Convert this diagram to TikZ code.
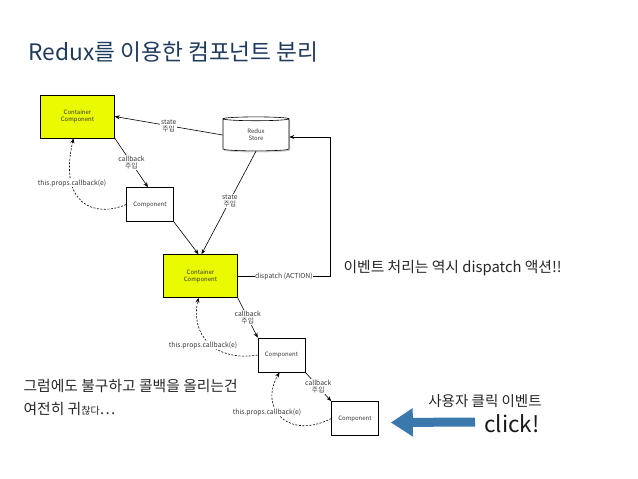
\documentclass[tikz,border=0pt]{standalone}
\usepackage{fontspec}
\setmainfont{Noto Sans CJK KR}
\usetikzlibrary{positioning,arrows.meta,shapes.geometric,shadows}
\definecolor{titlenavy}{HTML}{1F3B5C}
\definecolor{lemon}{HTML}{EAFA00}
\definecolor{clickblue}{HTML}{3A78AE}
\definecolor{labelgrey}{HTML}{3A3A3A}

\begin{document}
\begin{tikzpicture}[x=1pt,y=-1pt,
  box/.style={draw=black,line width=0.6pt,fill=white,inner sep=0pt,align=center,
    font=\fontsize{6}{7}\selectfont,text=labelgrey,
    drop shadow={opacity=0.2,shadow xshift=0.8pt,shadow yshift=-0.8pt}},
  container/.style={box,fill=lemon,minimum width=74pt,minimum height=43pt},
  comp/.style={box,minimum width=47pt,minimum height=34pt},
  wire/.style={-{Stealth[length=5pt,width=4pt]},line width=0.6pt},
  backwire/.style={wire,dash pattern=on 2pt off 1.5pt},
  tag/.style={fill=white,inner sep=0.6pt,align=center,
    font=\fontsize{6.8}{7.4}\selectfont,text=labelgrey},
  remark/.style={anchor=west,font=\fontsize{14.8}{23}\selectfont,text=black!85}]
  \useasboundingbox (0,0) rectangle (638,479);

  % title
  \node[anchor=west,font=\fontsize{22.7}{26}\selectfont,text=titlenavy] (title)
        at (25,52) {Redux를 이용한 컴포넌트 분리};

  % store and containers
  \node[container] (cc1) at (77.5,116.5) {Container\\Component};
  \node[container] (cc2) at (200.5,276) {Container\\Component};
  \node[cylinder,shape border rotate=90,aspect=0.22,draw=black,line width=0.6pt,
        fill=white,minimum width=66pt,minimum height=34pt,inner sep=0pt,
        align=center,font=\fontsize{6}{7}\selectfont,text=labelgrey,
        drop shadow={opacity=0.35,shadow xshift=1pt,shadow yshift=-1.5pt}] (store)
        at (256,135) {Redux\\Store};

  % components
  \foreach \n/\x/\y in {comp1/150/204.5, comp2/281.5/355, comp3/355/418.5}
    \node[comp] (\n) at (\x,\y) {Component};

  % state down
  \draw[wire] (store.west) -- node[tag] {state\\주입} (cc1.east);
  \draw[wire] (store.south) -- node[tag,pos=0.48] {state\\주입} ([xshift=1]cc2.north);

  % callbacks down
  \draw[wire] (cc1.south east) -- node[tag] {callback\\주입} ([xshift=-2]comp1.north);
  \draw[wire] (comp1.south east) -- ([xshift=-2]cc2.north);
  \draw[wire] (cc2.south east) -- node[tag] {callback\\주입} (comp2.north west);
  \draw[wire] (comp2.south east) -- node[tag] {callback\\주입} (comp3.north west);

  % callbacks back up
  \draw[backwire] (comp1.west) .. controls (95,218) and (58,205) .. ([xshift=-4]cc1.south);
  \node[tag] (cb1) at (72,183) {this.props.callback(e)};
  \draw[backwire] (comp2.west) .. controls (215,362) and (190,335) .. ([xshift=-2]cc2.south);
  \node[tag] (cb2) at (203,345) {this.props.callback(e)};
  \draw[backwire] (comp3.west) .. controls (290,440) and (258,410) .. ([xshift=-2]comp2.south);
  \node[tag] (cb3) at (267,412) {this.props.callback(e)};

  % dispatch
  \coordinate (turn) at (330,0);
  \draw[wire] (cc2.east) -- node[tag] {dispatch (ACTION)} (cc2.east -| turn)
              |- ([yshift=-2]store.east);

  % remarks
  \node[remark] (note) at (340,268) {이벤트 처리는 역시 dispatch 액션!!};
  \node[remark,align=left] (sigh) at (20,397)
        {그럼에도 불구하고 콜백을 올리는건\\여전히 귀{\fontsize{10}{12}\selectfont 찮다}⋯};
  \node[font=\fontsize{14.5}{16}\selectfont,text=black!85] (user) at (485,401) {사용자 클릭 이벤트};
  \node[font=\fontsize{22.5}{26}\selectfont,text=black!90] (click) at (512,424) {click!};

  % click arrow
  \coordinate (press) at (475,422);
  \draw[clickblue,line width=9pt,-{Triangle[length=22pt,width=27pt]},
        drop shadow={opacity=0.25,shadow xshift=1pt,shadow yshift=-1pt}]
        (press) -- ([xshift=12,yshift=-4]comp3.east);
\end{tikzpicture}
\end{document}
